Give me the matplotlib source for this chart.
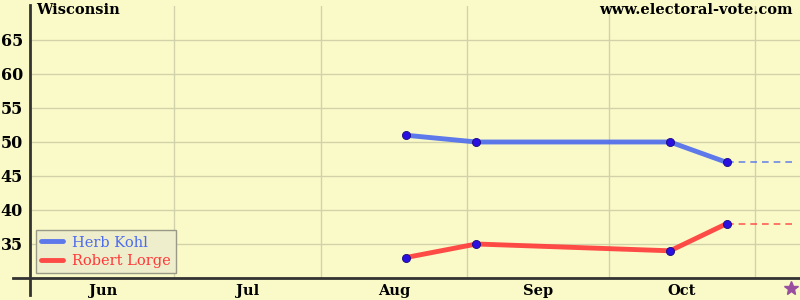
import matplotlib
matplotlib.use("Agg")
import matplotlib.pyplot as plt
from matplotlib.lines import Line2D
import datetime as dt

state = "Wisconsin"
site = "www.electoral-vote.com"
candidates = ["Herb Kohl", "Robert Lorge"]
poll_dates = ["2006-08-19", "2006-09-03", "2006-10-14", "2006-10-26"]
kohl = [51, 50, 50, 47]
lorge = [33, 35, 34, 38]
election_day = "2006-11-07"
month_labels = ["Jun", "Jul", "Aug", "Sep", "Oct"]
month_starts = ["2006-06-01", "2006-07-01", "2006-08-01", "2006-09-01", "2006-10-01", "2006-11-01"]
yticks = [35, 40, 45, 50, 55, 60, 65]

base = dt.date(2006, 6, 1)
def d(s):
    return (dt.date.fromisoformat(s) - base).days

xs = [d(s) for s in poll_dates]
xe = d(election_day)
ms = [d(s) for s in month_starts]

bg = "#FAFAC8"
fig = plt.figure(figsize=(8, 3), dpi=100, facecolor=bg)
ax = fig.add_axes([30/800, 22/300, 770/800, 272/300], facecolor=bg)
ax.set_xlim(-0.5, 162.5)
ax.set_ylim(30, 70)

for s in ax.spines.values():
    s.set_visible(False)

ax.set_yticks(yticks)
ax.set_yticklabels([str(v) for v in yticks], fontsize=11.5, fontweight="bold", family="DejaVu Serif")
ax.tick_params(axis="y", length=0, pad=5)
ax.set_xticks([(a + b) / 2 for a, b in zip(ms[:-1], ms[1:])])
ax.set_xticklabels(month_labels, fontsize=10.5, fontweight="bold", family="DejaVu Serif")
ax.tick_params(axis="x", length=0, pad=4)

for v in yticks:
    ax.axhline(v, color="#D2D2AA", lw=1, zorder=0)
for m in ms[1:] + [ms[-1] + 31]:
    ax.axvline(m, color="#D2D2AA", lw=1, zorder=0)

blue = "#4D6BEE"
red = "#FF3838"
ax.plot(xs, kohl, color=blue, lw=3.5, alpha=0.9, solid_capstyle="round", label=candidates[0], zorder=3)
ax.plot(xs, lorge, color=red, lw=3.5, alpha=0.9, solid_capstyle="round", label=candidates[1], zorder=3)
ax.plot([xs[-1], xe + 2], [kohl[-1], kohl[-1]], color=blue, lw=1.2, ls=(0, (4, 3)), alpha=0.8, zorder=2)
ax.plot([xs[-1], xe + 2], [lorge[-1], lorge[-1]], color=red, lw=1.2, ls=(0, (4, 3)), alpha=0.8, zorder=2)
ax.scatter(xs, kohl, s=34, color="#2A10E0", edgecolors="#1A0A80", linewidths=0.6, zorder=4)
ax.scatter(xs, lorge, s=34, color="#2A10E0", edgecolors="#1A0A80", linewidths=0.6, zorder=4)

ax.plot([xe + 1.5], [28.5], marker="*", ms=10, color="#9A4EA0", clip_on=False, zorder=5)

# axis lines extending past the corner
fig.add_artist(Line2D([30/800, 30/800], [5/300, 295/300], color="#333333", lw=2, transform=fig.transFigure))
fig.add_artist(Line2D([13/800, 1.0], [22/300, 22/300], color="#333333", lw=2, transform=fig.transFigure))

fig.text(36/800, 1 - 3/300, state, ha="left", va="top", fontsize=10.5, fontweight="bold", family="DejaVu Serif")
fig.text(793/800, 1 - 3/300, site, ha="right", va="top", fontsize=10.5, fontweight="bold", family="DejaVu Serif")

leg = ax.legend(loc="lower left", bbox_to_anchor=(6/770, 5/272), frameon=True, fancybox=False,
                prop={"family": "DejaVu Serif", "size": 10.5}, handlelength=1.5, borderpad=0.35,
                labelspacing=0.3, handletextpad=0.6, borderaxespad=0)
leg.get_frame().set_facecolor("#EEEECC")
leg.get_frame().set_edgecolor("#999988")
leg.get_frame().set_alpha(1)
for t, c in zip(leg.get_texts(), [blue, red]):
    t.set_color(c)

fig.savefig("out.png", dpi=100, facecolor=bg)
